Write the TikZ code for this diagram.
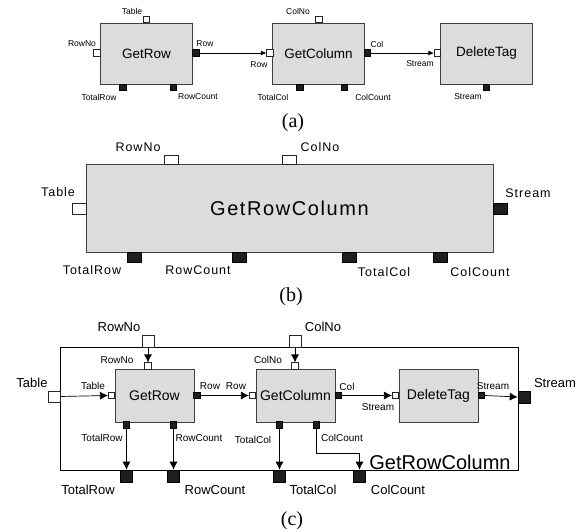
\documentclass[tikz,border=0pt]{standalone}
\usepackage{fontspec}
\setmainfont{Liberation Sans}
\newfontfamily\capfont{Liberation Serif}
\newfontfamily\widefont[LetterSpace=8]{Liberation Sans}
\usetikzlibrary{arrows.meta}
\definecolor{boxgray}{RGB}{220,220,220}
\definecolor{portblack}{RGB}{30,30,30}

\tikzset{
  blk/.style={draw=black!75, fill=boxgray, line width=0.8pt, inner sep=0pt},
  inport/.style={draw=black!85, fill=white, line width=0.6pt, inner sep=0pt, minimum size=6.5pt},
  outport/.style={draw=black, fill=portblack, line width=0.6pt, inner sep=0pt, minimum size=6.5pt},
  bigport/.style={minimum width=14pt, minimum height=10pt},
  lbl/.style={inner sep=0pt},
  wire/.style={line width=0.7pt, -{Latex[length=8pt,width=8pt]}},
  smallwire/.style={line width=0.7pt, -{Latex[length=5.5pt,width=5pt]}},
}

\begin{document}
\begin{tikzpicture}[x=1pt,y=-1pt]
  \useasboundingbox (0,0) rectangle (582,532);

  % (a) the three blocks
  \node [blk, minimum width=92pt, minimum height=61pt, font=\fontsize{13.5}{14}\selectfont] (aGetRow) at (146.5,53.5) {GetRow};
  \node [blk, minimum width=92pt, minimum height=61pt, font=\fontsize{13.5}{14}\selectfont] (aGetColumn) at (318.5,53.5) {GetColumn};
  \node [blk, minimum width=92pt, minimum height=61pt, font=\fontsize{13.5}{14}\selectfont] (aDeleteTag) at (486.5,53.5) {DeleteTag};

  \node [inport] (aTable) at (146.5,19.5) {};
  \node [inport] (aRowNo) at (97,53) {};
  \node [outport] (aRow) at (196,53) {};
  \node [outport] (aTotalRow) at (123,87.5) {};
  \node [outport] (aRowCount) at (173.5,87.5) {};
  \node [inport] (aColNo) at (319,19.5) {};
  \node [inport] (aRowIn) at (270,53) {};
  \node [outport] (aCol) at (367.5,53) {};
  \node [outport] (aTotalCol) at (300,87.5) {};
  \node [outport] (aColCount) at (344.5,87.5) {};
  \node [inport] (aStreamIn) at (437.5,53) {};
  \node [outport] (aStreamOut) at (486.5,87.5) {};

  \draw [smallwire] (aRow.east) -- (aRowIn.west);
  \draw [smallwire] (aCol.east) -- (aStreamIn.west);

  \begin{scope}[every node/.style={lbl, font=\fontsize{8.5}{9}\selectfont}]
    \node at (132,11) {Table};
    \node at (82,44) {RowNo};
    \node at (205,44) {Row};
    \node at (99,97) {TotalRow};
    \node at (198,97) {RowCount};
    \node at (298,11) {ColNo};
    \node at (259,65) {Row};
    \node at (377,44) {Col};
    \node at (273,97) {TotalCol};
    \node at (373,97) {ColCount};
    \node at (420,64) {Stream};
    \node at (468,97) {Stream};
  \end{scope}
  \node [lbl, font=\capfont\fontsize{20}{22}\selectfont] (capA) at (293,123) {(a)};

  % (b) the one block
  \node [blk, minimum width=407pt, minimum height=88pt, font=\widefont\fontsize{20}{22}\selectfont] (bGetRowColumn) at (289.5,208) {GetRowColumn};
  \node [inport, bigport, minimum height=9pt] (bRowNo) at (171,159.5) {};
  \node [inport, bigport, minimum height=9pt] (bColNo) at (289,159.5) {};
  \node [inport, bigport, minimum height=11pt] (bTable) at (79,208.5) {};
  \node [outport, bigport, minimum height=11pt] (bStream) at (500,208.5) {};
  \node [outport, bigport] (bTotalRow) at (134,257) {};
  \node [outport, bigport] (bRowCount) at (239,257) {};
  \node [outport, bigport] (bTotalCol) at (349,257) {};
  \node [outport, bigport] (bColCount) at (440,257) {};

  \begin{scope}[every node/.style={lbl, font=\widefont\fontsize{12.5}{13}\selectfont}]
    \node at (138,147) {RowNo};
    \node at (320,147) {ColNo};
    \node at (58,192) {Table};
    \node at (528,193) {Stream};
    \node at (92,270) {TotalRow};
    \node at (198,270) {RowCount};
    \node at (384,272) {TotalCol};
    \node at (480,272) {ColCount};
  \end{scope}
  \node [lbl, font=\capfont\fontsize{20}{22}\selectfont] (capB) at (291,297) {(b)};

  % (c) the blocks inside GetRowColumn
  \node [draw, line width=0.8pt, minimum width=458pt, minimum height=123pt, inner sep=0pt] (cOuter) at (289,408.5) {};
  \node [lbl, font=\fontsize{20}{22}\selectfont] (cName) at (440,462) {GetRowColumn};

  \node [blk, minimum width=79pt, minimum height=53pt, font=\fontsize{14}{15}\selectfont] (cGetRow) at (154.5,395.5) {GetRow};
  \node [blk, minimum width=79pt, minimum height=53pt, font=\fontsize{14}{15}\selectfont] (cGetColumn) at (295.5,395.5) {GetColumn};
  \node [blk, minimum width=79pt, minimum height=53pt, font=\fontsize{14}{15}\selectfont] (cDeleteTag) at (438.5,395.5) {DeleteTag};

  % outer ports
  \node [inport, minimum width=12pt, minimum height=11pt] (cTable) at (54,396.5) {};
  \node [inport, minimum size=12pt] (cRowNo) at (148,341) {};
  \node [inport, minimum size=12pt] (cColNo) at (295,341) {};
  \node [outport, minimum size=12pt] (cStream) at (524,397) {};
  \node [outport, minimum size=12pt] (cTotalRow) at (126.5,476) {};
  \node [outport, minimum size=12pt] (cRowCount) at (173.5,476) {};
  \node [outport, minimum size=12pt] (cTotalCol) at (279.5,476) {};
  \node [outport, minimum size=12pt] (cColCount) at (359.5,476) {};

  % inner ports
  \node [inport] (cGRTable) at (111.5,395.5) {};
  \node [inport] (cGRRowNo) at (148,366) {};
  \node [outport] (cGRRow) at (197,395.5) {};
  \node [outport] (cGRTotalRow) at (126.5,425) {};
  \node [outport] (cGRRowCount) at (173.5,425) {};
  \node [inport] (cGCRow) at (252.5,395.5) {};
  \node [inport] (cGCColNo) at (295,366) {};
  \node [outport] (cGCCol) at (338.5,395.5) {};
  \node [outport] (cGCTotalCol) at (279.5,425) {};
  \node [outport] (cGCColCount) at (316.5,425) {};
  \node [inport] (cDTStreamIn) at (395.5,395.5) {};
  \node [outport] (cDTStreamOut) at (481.5,395.5) {};

  \draw [wire] (cTable.east) -- (cGRTable.west);
  \draw [wire] (cRowNo.south) -- (cGRRowNo.north);
  \draw [wire] (cGRRow.east) -- (cGCRow.west);
  \draw [wire] (cColNo.south) -- (cGCColNo.north);
  \draw [wire] (cGCCol.east) -- (cDTStreamIn.west);
  \draw [wire] (cDTStreamOut.east) -- (cStream.west);
  \draw [wire] (cGRTotalRow.south) -- (cTotalRow.north);
  \draw [wire] (cGRRowCount.south) -- (cRowCount.north);
  \draw [wire] (cGCTotalCol.south) -- (cTotalCol.north);
  \draw [wire] (cGCColCount.south) -- ++(0,25) -| (cColCount.north);

  \begin{scope}[every node/.style={lbl, font=\fontsize{13}{14}\selectfont}]
    \node at (32,383) {Table};
    \node at (119,327) {RowNo};
    \node at (323,327) {ColNo};
    \node at (555,383) {Stream};
    \node at (88,490) {TotalRow};
    \node at (215,490) {RowCount};
    \node at (313,490) {TotalCol};
    \node at (398,490) {ColCount};
  \end{scope}
  \begin{scope}[every node/.style={lbl, font=\fontsize{10}{11}\selectfont}]
    \node at (117,360) {RowNo};
    \node at (93,386) {Table};
    \node at (210,386) {Row};
    \node at (236,386) {Row};
    \node at (268,360) {ColNo};
    \node at (347,387) {Col};
    \node at (378,407) {Stream};
    \node at (493,386) {Stream};
    \node at (102,438) {TotalRow};
    \node at (199,438) {RowCount};
    \node at (253,440) {TotalCol};
    \node at (342,438) {ColCount};
  \end{scope}
  \node [lbl, font=\capfont\fontsize{20}{22}\selectfont] (capC) at (292,521) {(c)};
\end{tikzpicture}
\end{document}
